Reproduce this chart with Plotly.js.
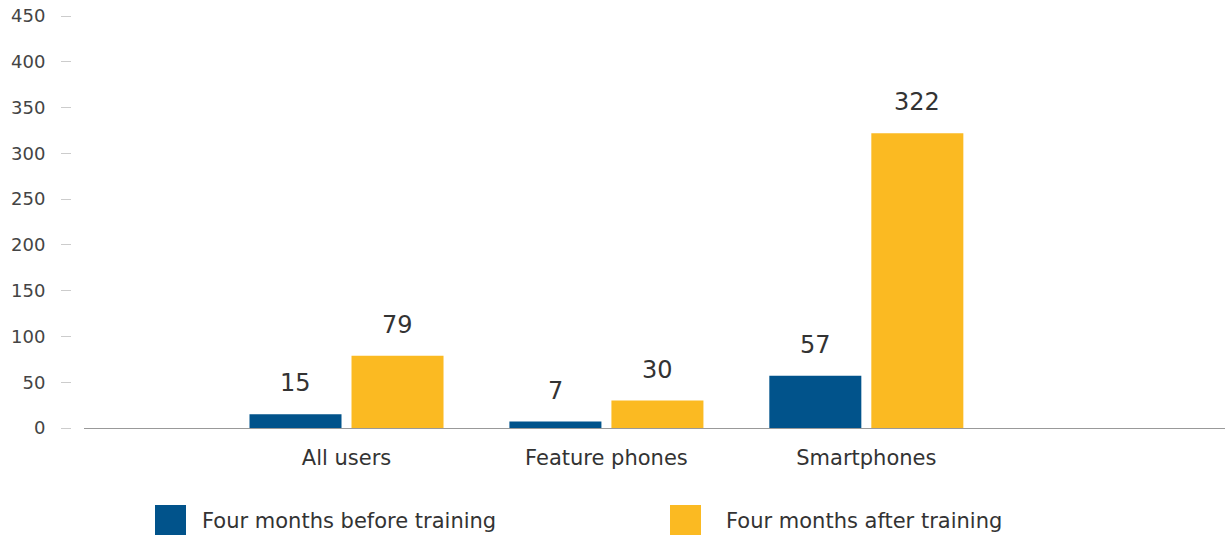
<!DOCTYPE html>
<html><head><meta charset="utf-8">
<script src="https://cdn.plot.ly/plotly-3.0.1.min.js"></script>
<style>body{margin:0;background:#fff}#c{width:1227px;height:535px}</style>
</head><body><div id="c"></div>
<script>
const categories = ["All users", "Feature phones", "Smartphones"];
const seriesNames = ["Four months before training", "Four months after training"];
const before = [15, 7, 57];
const after = [79, 30, 322];
const yTicks = [0, 50, 100, 150, 200, 250, 300, 350, 400, 450];

const colors = ["#01538B", "#FBBA22"];
const W = 1227, H = 535, ML = 71, MR = 2, MT = 16, MB = 107;
const PW = W - ML - MR, PH = H - MT - MB;
const px = x => (x - ML) / PW;
const py = y => (H - MB - y) / PH;
const font = "DejaVu Sans, sans-serif";

const traces = [before, after].map((vals, i) => ({
  type: "bar", x: categories, y: vals, name: seriesNames[i],
  marker: {color: colors[i]}, showlegend: false, hoverinfo: "x+y"
}));

const annotations = [];
[before, after].forEach((vals, i) => {
  vals.forEach((v, j) => annotations.push({
    x: categories[j], y: v, xref: "x", yref: "y", text: String(v),
    showarrow: false, yanchor: "bottom", xshift: i === 0 ? -51 : 51, yshift: 15,
    font: {family: font, size: 24, color: "#333"}
  }));
});
const legendBoxX = [155, 670];
const legendTextX = [200, 724];
const shapes = [];
seriesNames.forEach((n, i) => {
  shapes.push({type: "rect", xref: "paper", yref: "paper", x0: px(legendBoxX[i]), x1: px(legendBoxX[i] + 31),
    y0: py(505), y1: py(535), fillcolor: colors[i], line: {width: 0}});
  annotations.push({xref: "paper", yref: "paper", x: px(legendTextX[i]), y: py(521), xanchor: "left", yanchor: "middle",
    text: n, showarrow: false, font: {family: font, size: 21, color: "#333"}});
});

Plotly.newPlot("c", traces, {
  width: W, height: H, margin: {l: ML, r: MR, t: MT, b: MB},
  paper_bgcolor: "#fff", plot_bgcolor: "#fff",
  barmode: "group", bargap: 0.215, bargroupgap: 0.098,
  font: {family: font, color: "#333"},
  xaxis: {domain: [13 / PW, 1], range: [-1.01, 3.38], showgrid: false, zeroline: false,
    showline: true, linecolor: "#999", linewidth: 1, ticks: "", ticklabelstandoff: 11,
    tickfont: {family: font, size: 21, color: "#333"}},
  yaxis: {anchor: "free", position: 0, range: [0, 450], tickvals: yTicks, showgrid: false, zeroline: false,
    showline: false, ticks: "outside", ticklen: 10, tickcolor: "#ccc", tickwidth: 1, ticklabelstandoff: 12,
    tickfont: {family: font, size: 18, color: "#444"}},
  shapes: shapes, annotations: annotations
}, {displayModeBar: false, staticPlot: true});
</script></body></html>
